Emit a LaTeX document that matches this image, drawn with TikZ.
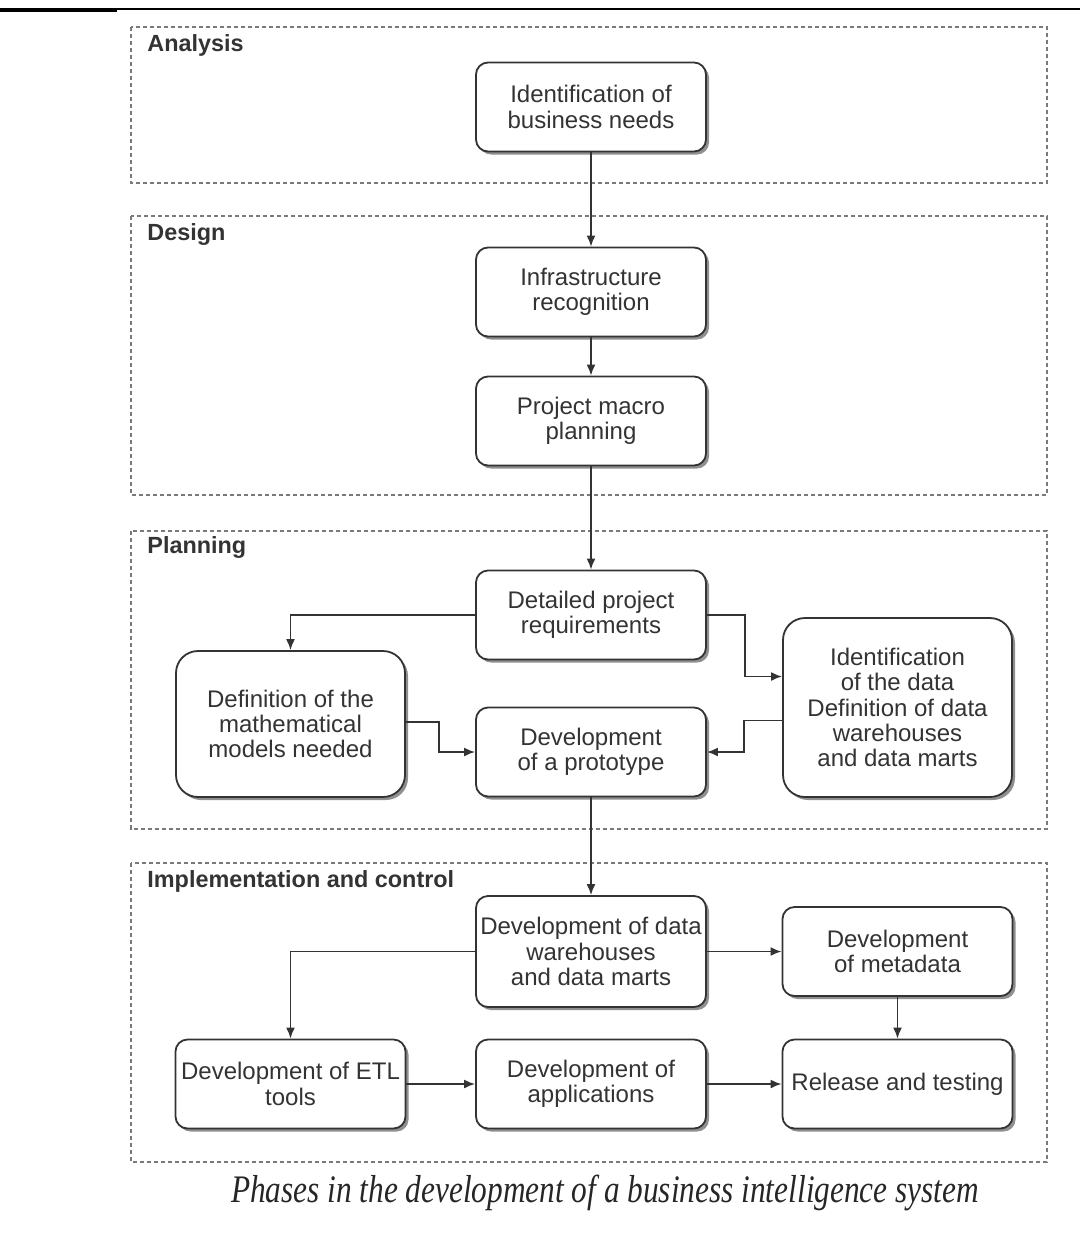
\documentclass[tikz,border=0pt]{standalone}
\usepackage{fontspec}
\setmainfont{Liberation Sans}
\newfontfamily\capfont{Liberation Serif}
\usetikzlibrary{arrows.meta,shadows,calc}
\definecolor{ink}{HTML}{333333}
\definecolor{edge}{HTML}{333333}
\definecolor{dashc}{HTML}{7A7A7A}
\tikzset{
  phase/.style={draw=dashc, line width=0.85pt, dash pattern=on 2.2pt off 1.3pt},
  phaselabel/.style={anchor=west, inner sep=0pt, text=ink, font=\bfseries\fontsize{11.7}{13}\selectfont},
  stepbox/.style={draw=edge, line width=0.9pt, fill=white, rounded corners=6pt,
    minimum width=115pt, minimum height=44.5pt, align=center, inner sep=0pt, text=ink,
    font=\fontsize{12}{12.6}\selectfont,
    drop shadow={shadow xshift=1.5pt, shadow yshift=-1.5pt, fill=black!55, opacity=0.8}},
  tallbox/.style={stepbox, rounded corners=11pt},
  arr/.style={draw=edge, line width=0.9pt, -{Latex[length=5.5pt,width=4.5pt]}},
}
\begin{document}
\begin{tikzpicture}[x=0.5pt,y=-0.5pt]
\useasboundingbox (0,0) rectangle (1080,1238);
% top rule
\draw[line width=1.6pt, black] (0,10) -- (117,10);
\draw[line width=0.8pt, black] (117,9) -- (1080,9);
% phase frames
\draw[phase] (131,27) rectangle (1047,183);
\draw[phase] (131,216) rectangle (1047,495);
\draw[phase] (131,531) rectangle (1047,829);
\draw[phase] (131,863) rectangle (1047,1162);
\node[phaselabel] (lA) at (147,45) {Analysis};
\node[phaselabel] (lD) at (147,234) {Design};
\node[phaselabel] (lP) at (147,547) {Planning};
\node[phaselabel] (lI) at (147,881) {Implementation and control};
% nodes
\node[stepbox] (bus) at (591,107) {Identification of\\business needs};
\node[stepbox] (infra) at (591,292) {Infrastructure\\recognition};
\node[stepbox] (macro) at (591,421) {Project macro\\planning};
\node[stepbox] (det) at (591,615) {Detailed project\\requirements};
\node[tallbox, minimum width=114.5pt, minimum height=73pt] (math) at (290.5,724) {Definition of the\\mathematical\\models needed};
\node[stepbox] (proto) at (591,752) {Development\\of a prototype};
\node[tallbox, minimum width=114.5pt, minimum height=89.5pt] (idd) at (897.5,707.5) {Identification\\of the data\\Definition of data\\warehouses\\and data marts};
\node[stepbox, minimum height=55.5pt] (dw) at (591,951.5) {Development of data\\warehouses\\and data marts};
\node[stepbox] (meta) at (897.5,951.5) {Development\\of metadata};
\node[stepbox] (etl) at (290.5,1084) {Development of ETL\\tools};
\node[stepbox] (app) at (591,1084) {Development of\\applications};
\node[stepbox] (rel) at (897.5,1084) {Release and testing};
% connectors
\draw[arr] (bus) -- (infra);
\draw[arr] (infra) -- (macro);
\draw[arr] (macro) -- (det);
\draw[arr] (det.west) -| (math.north);
\draw[arr] (det.east) -- ++(38,0) |- ([yshift=15.5pt]idd.west);
\draw[arr] ([yshift=1pt]math.east) -- ++(33,0) |- (proto.west);
\draw[arr] ([yshift=-6.5pt]idd.west) -- ++(-38,0) |- (proto.east);
\draw[arr] (proto) -- (dw);
\draw[arr] (dw.west) -| (etl.north);
\draw[arr] (dw.east) -- (meta.west);
\draw[arr] (meta) -- (rel);
\draw[arr] (etl) -- (app);
\draw[arr] (app) -- (rel);
% caption
\node[inner sep=0pt, text=black!85] (cap) at (605,1193) {\resizebox{374pt}{\height}{\capfont\itshape\fontsize{19.5}{21}\selectfont Phases in the development of a business intelligence system}};
\end{tikzpicture}
\end{document}
